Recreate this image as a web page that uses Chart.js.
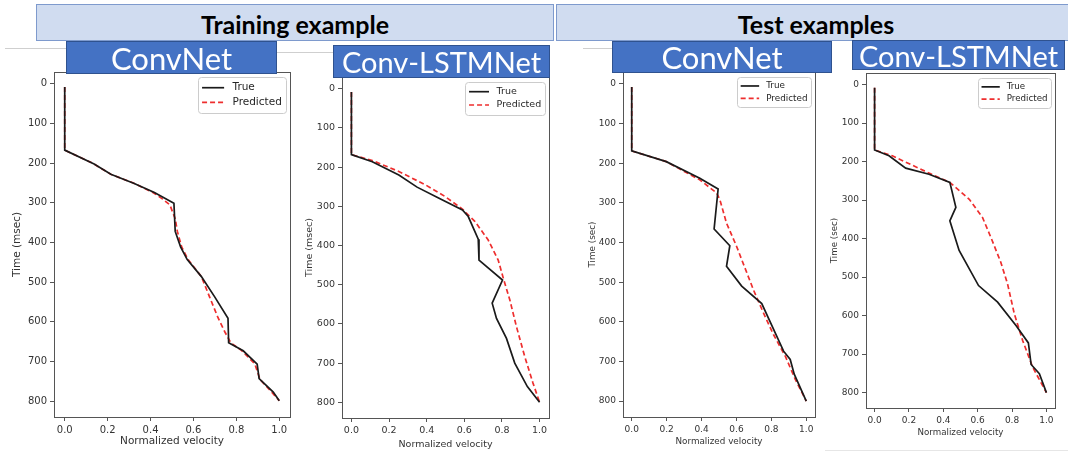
<!DOCTYPE html>
<html lang="en">
<head>
<meta charset="UTF-8" />
<title>ConvNet vs Conv-LSTMNet velocity profiles</title>
<script src="https://cdn.jsdelivr.net/npm/chart.js"></script>
<style>
  body { margin: 0; width: 1068px; height: 458px; background: #fff; position: relative; overflow: hidden; font-family: Lato, "Open Sans", sans-serif; }
  .band { position: absolute; top: 4px; height: 37px; background: #d0dcf0; border: 1px solid #7e9acd; box-sizing: border-box; text-align: center; font-weight: bold; font-size: 25px; line-height: 38px; color: #000; }
  .tag { position: absolute; background: #4472c4; border: 1px solid #2f528f; color: #fff; text-align: center; font-size: 29px; box-sizing: border-box; z-index: 2; }
  .rule { position: absolute; height: 1px; background: #cfcfcf; }
  canvas { position: absolute; z-index: 1; }
</style>
</head>
<body>
<div class="band" style="left:36px; width:518px;">Training example</div>
<div class="band" style="left:556px; width:520px;">Test examples</div>
<div class="rule" style="left:5px; top:48px; width:61px;"></div>
<div class="rule" style="left:277px; top:52px; width:56px;"></div>
<div class="rule" style="left:583px; top:48px; width:29px;"></div>
<div class="rule" style="left:825px; top:450px; width:243px; background:#e6e6e6;"></div>

<div class="tag" style="left:66px; top:41px; width:211px; height:33px; line-height:32px; font-size:31px;">ConvNet</div>
<div class="tag" style="left:333px; top:45px; width:217px; height:33px; line-height:32px;">Conv-LSTMNet</div>
<div class="tag" style="left:612px; top:41px; width:220px; height:32px; line-height:31px; font-size:31px;">ConvNet</div>
<div class="tag" style="left:852px; top:40px; width:213px; height:30px; line-height:29px;">Conv-LSTMNet</div>

<canvas id="c1"></canvas>
<canvas id="c2"></canvas>
<canvas id="c3"></canvas>
<canvas id="c4"></canvas>

<script>
  // tick labels shared by all four panels
  const xTicks = [0, 0.2, 0.4, 0.6, 0.8, 1.0];
  const yTicks = [0, 100, 200, 300, 400, 500, 600, 700, 800];

  // Training example, ConvNet
  const convTrainTrueT = [8, 167, 202, 228, 251, 274, 301, 372, 411, 443, 486, 537, 591, 653, 673, 707, 743, 777, 799];
  const convTrainTrueV = [0, 0, 0.137, 0.215, 0.324, 0.418, 0.509, 0.515, 0.54, 0.571, 0.637, 0.699, 0.761, 0.764, 0.832, 0.897, 0.906, 0.972, 1.0];
  const convTrainPredT = [8, 167, 200, 228, 250, 275, 290, 305, 340, 372, 411, 443, 486, 537, 589, 625, 653, 672, 706, 745, 777, 799];
  const convTrainPredV = [0, 0, 0.13, 0.215, 0.32, 0.415, 0.455, 0.49, 0.515, 0.525, 0.545, 0.575, 0.637, 0.675, 0.714, 0.746, 0.774, 0.824, 0.886, 0.91, 0.964, 1.0];

  // Training example, Conv-LSTMNet
  const lstmTrainTrueT = [8, 168, 186, 220, 251, 279, 309, 326, 384, 437, 488, 547, 586, 637, 700, 760, 800];
  const lstmTrainTrueV = [0, 0, 0.111, 0.252, 0.349, 0.463, 0.59, 0.621, 0.674, 0.678, 0.803, 0.748, 0.771, 0.824, 0.868, 0.935, 1.0];
  const lstmTrainPredT = [8, 168, 183, 211, 245, 275, 307, 339, 386, 437, 488, 539, 607, 683, 751, 800];
  const lstmTrainPredV = [0, 0, 0.111, 0.252, 0.393, 0.498, 0.59, 0.657, 0.727, 0.78, 0.81, 0.842, 0.877, 0.921, 0.965, 1.0];

  // Test example, ConvNet
  const convTestTrueT = [8, 169, 196, 238, 265, 366, 408, 460, 510, 554, 674, 695, 732, 800];
  const convTestTrueV = [0, 0, 0.198, 0.39, 0.495, 0.472, 0.562, 0.543, 0.63, 0.745, 0.87, 0.908, 0.931, 1.0];
  const convTestPredT = [8, 169, 196, 242, 275, 292, 351, 410, 519, 577, 632, 686, 745, 800];
  const convTestPredV = [0, 0, 0.198, 0.39, 0.486, 0.505, 0.543, 0.601, 0.697, 0.754, 0.812, 0.879, 0.937, 1.0];

  // Test example, Conv-LSTMNet
  const lstmTestTrueT = [8, 170, 185, 217, 233, 254, 319, 354, 431, 522, 565, 626, 671, 727, 751, 800];
  const lstmTestTrueV = [0, 0, 0.084, 0.181, 0.317, 0.438, 0.473, 0.438, 0.492, 0.605, 0.716, 0.823, 0.895, 0.911, 0.959, 1.0];
  const lstmTestPredT = [8, 170, 185, 230, 254, 298, 345, 397, 462, 518, 595, 665, 734, 800];
  const lstmTestPredV = [0, 0, 0.103, 0.317, 0.438, 0.551, 0.628, 0.677, 0.735, 0.774, 0.813, 0.862, 0.92, 1.0];

  const legendLabels = ["True", "Predicted"];

  // canvas box + wanted plot area (page pixels) for each panel
  const panels = [
    { id: "c1", tT: convTrainTrueT, tV: convTrainTrueV, pT: convTrainPredT, pV: convTrainPredV, yTitle: "Time (msec)",
      box: { x: 11, y: 60, w: 289, h: 388 }, area: { l: 54, t: 72, r: 290, b: 417 }, fs: 10.5, tick: 10 },
    { id: "c2", tT: lstmTrainTrueT, tV: lstmTrainTrueV, pT: lstmTrainPredT, pV: lstmTrainPredV, yTitle: "Time (msec)",
      box: { x: 304, y: 60, w: 252, h: 390 }, area: { l: 342, t: 77, r: 549, b: 418 }, fs: 9.5, tick: 9.5 },
    { id: "c3", tT: convTestTrueT, tV: convTestTrueV, pT: convTestPredT, pV: convTestPredV, yTitle: "Time (sec)",
      box: { x: 587, y: 60, w: 235, h: 387 }, area: { l: 623, t: 72, r: 815, b: 417 }, fs: 8.8, tick: 9 },
    { id: "c4", tT: lstmTestTrueT, tV: lstmTestTrueV, pT: lstmTestPredT, pV: lstmTestPredV, yTitle: "Time (sec)",
      box: { x: 830, y: 60, w: 235, h: 378 }, area: { l: 866, t: 73, r: 1055, b: 408 }, fs: 8.7, tick: 9 },
  ];

  const toPoints = (ts, vs) => ts.map((t, i) => ({ x: vs[i], y: t }));

  // full box round the plot, like matplotlib spines
  const framePlugin = {
    id: "frame",
    afterDraw(chart) {
      const a = chart.chartArea, c = chart.ctx;
      c.save();
      c.strokeStyle = "#555";
      c.lineWidth = 1;
      c.strokeRect(Math.round(a.left) + 0.5, Math.round(a.top) + 0.5, Math.round(a.right - a.left), Math.round(a.bottom - a.top));
      c.restore();
    },
  };

  // legend box in the upper right corner of the plot
  const legendPlugin = {
    id: "boxLegend",
    afterDatasetsDraw(chart, args, opts) {
      const a = chart.chartArea, c = chart.ctx, fs = opts.size;
      c.save();
      c.font = fs + "px 'DejaVu Sans'";
      const tw = Math.max(...chart.data.datasets.map((d) => c.measureText(d.label).width));
      const lineLen = fs * 2.1, gap = fs * 0.8, pad = fs * 0.4, row = fs * 1.4;
      const w = pad + lineLen + gap + tw + pad;
      const h = row * 2 + pad * 1.6;
      const x = a.right - 4 - w, y = a.top + 5;
      c.fillStyle = "rgba(255,255,255,0.85)";
      c.strokeStyle = "#cccccc";
      c.lineWidth = 1;
      c.beginPath();
      c.roundRect(Math.round(x) + 0.5, Math.round(y) + 0.5, Math.round(w), Math.round(h), 3);
      c.fill();
      c.stroke();
      chart.data.datasets.forEach((d, i) => {
        const cy = y + pad * 0.8 + row * (i + 0.5);
        c.strokeStyle = d.borderColor;
        c.lineWidth = d.borderWidth;
        c.setLineDash(d.borderDash || []);
        c.beginPath();
        c.moveTo(x + pad, cy);
        c.lineTo(x + pad + lineLen, cy);
        c.stroke();
        c.setLineDash([]);
        c.fillStyle = "#262626";
        c.textBaseline = "middle";
        c.fillText(d.label, x + pad + lineLen + gap, cy);
      });
      c.restore();
    },
  };

  panels.forEach((p) => {
    const cv = document.getElementById(p.id);
    cv.width = p.box.w;
    cv.height = p.box.h;
    cv.style.left = p.box.x + "px";
    cv.style.top = p.box.y + "px";
    const yWidth = p.area.l - p.box.x;
    const xHeight = p.box.y + p.box.h - p.area.b;

    new Chart(cv, {
      type: "scatter",
      data: {
        datasets: [
          { label: legendLabels[0], data: toPoints(p.tT, p.tV), showLine: true, borderColor: "#1a1a1a", borderWidth: 1.7, pointRadius: 0, tension: 0 },
          { label: legendLabels[1], data: toPoints(p.pT, p.pV), showLine: true, borderColor: "#ee2e2e", borderWidth: 1.7, borderDash: [5, 3], pointRadius: 0, tension: 0 },
        ],
      },
      options: {
        responsive: false,
        animation: false,
        devicePixelRatio: 1,
        layout: { padding: { left: 0, top: p.area.t - p.box.y, right: p.box.x + p.box.w - p.area.r, bottom: 0 } },
        plugins: {
          legend: { display: false },
          tooltip: { enabled: false },
          boxLegend: { size: p.fs },
        },
        scales: {
          x: {
            type: "linear",
            min: -0.05,
            max: 1.05,
            afterBuildTicks: (s) => { s.ticks = xTicks.map((v) => ({ value: v })); },
            afterFit: (s) => { s.height = xHeight; },
            border: { display: false },
            grid: { drawOnChartArea: false, drawTicks: true, tickLength: 4, color: "#555" },
            ticks: { color: "#333", padding: 3, font: { family: "DejaVu Sans", size: p.tick }, callback: (v) => v.toFixed(1), maxRotation: 0 },
            title: { display: true, text: "Normalized velocity", color: "#333", padding: 0, font: { family: "DejaVu Sans", size: p.fs } },
          },
          y: {
            type: "linear",
            reverse: true,
            min: -30,
            max: 840,
            afterBuildTicks: (s) => { s.ticks = yTicks.map((v) => ({ value: v })); },
            afterFit: (s) => { s.width = yWidth; },
            border: { display: false },
            grid: { drawOnChartArea: false, drawTicks: true, tickLength: 4, color: "#555" },
            ticks: { color: "#333", padding: 3, font: { family: "DejaVu Sans", size: p.tick } },
            title: { display: true, text: p.yTitle, color: "#333", padding: 0, font: { family: "DejaVu Sans", size: p.fs } },
          },
        },
      },
      plugins: [framePlugin, legendPlugin],
    });
  });
</script>
</body>
</html>
